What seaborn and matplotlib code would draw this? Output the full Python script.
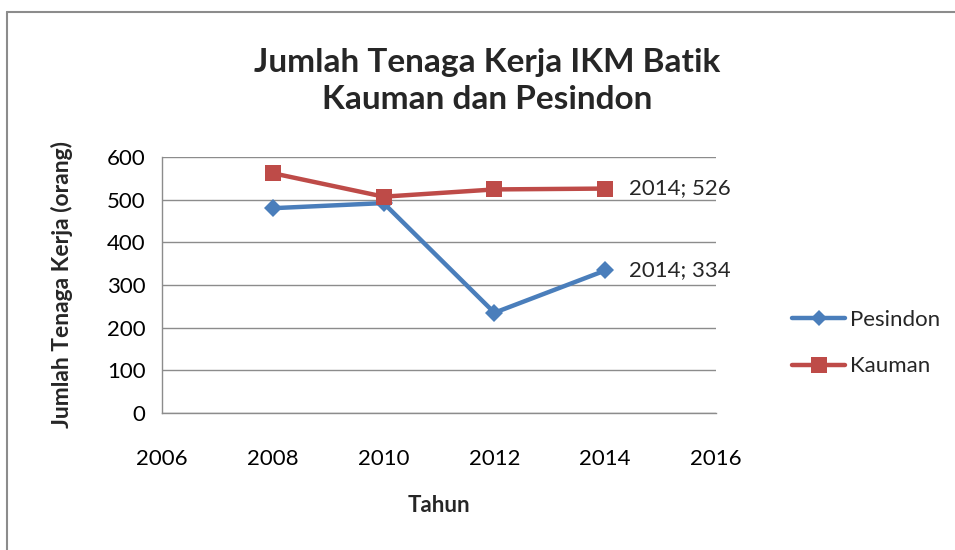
import matplotlib
matplotlib.use("Agg")
from matplotlib import pyplot as plt
from matplotlib.lines import Line2D
import pandas as pd
import seaborn as sns

years = [2008, 2010, 2012, 2014]
pesindon = [480, 492, 235, 334]
kauman = [562, 507, 524, 526]
series_names = ["Pesindon", "Kauman"]
y_ticks = [0, 100, 200, 300, 400, 500, 600]
x_ticks = [2006, 2008, 2010, 2012, 2014, 2016]

df = pd.DataFrame({
    "Tahun": years * 2,
    "Jumlah": pesindon + kauman,
    "Seri": [series_names[0]] * 4 + [series_names[1]] * 4,
})

sns.set_style("white")
plt.rcParams['font.family'] = ['Lato', 'DejaVu Sans']

fig = plt.figure(figsize=(9.55, 5.5), dpi=100)
ax = fig.add_axes([162 / 955, 1 - 413 / 550, (716 - 162) / 955, (413 - 157) / 550])

colors = {"Pesindon": "#4a7ebb", "Kauman": "#be4b48"}
markers = {"Pesindon": "D", "Kauman": "s"}
sizes = {"Pesindon": 9, "Kauman": 12}
for name in series_names:
    sub = df[df.Seri == name]
    sns.lineplot(data=sub, x="Tahun", y="Jumlah", ax=ax, color=colors[name],
                 marker=markers[name], markersize=sizes[name], linewidth=3.2,
                 markeredgewidth=0, label=name, legend=False)

ax.set_xlim(2006, 2016)
ax.set_ylim(0, 600)
ax.set_xticks(x_ticks)
ax.set_yticks(y_ticks)
ax.grid(axis="y", color="#8c8c8c", linewidth=1)
ax.grid(axis="x", visible=False)
for s in ["top", "right"]:
    ax.spines[s].set_visible(False)
for s in ["left", "bottom"]:
    ax.spines[s].set_color("#8c8c8c")
    ax.spines[s].set_linewidth(1)
ax.tick_params(axis="both", labelsize=16, colors="#000000", length=0)
ax.tick_params(axis="x", pad=26)
ax.tick_params(axis="y", pad=12)

ax.set_xlabel("Tahun", fontsize=16, fontweight="bold", labelpad=19)
ax.set_ylabel("Jumlah Tenaga Kerja (orang)", fontsize=16.5, fontweight="bold", labelpad=24)

ax.annotate(f"{years[-1]}; {kauman[-1]}", (years[-1], kauman[-1]), xytext=(17, 0),
            textcoords="offset points", va="center", fontsize=16)
ax.annotate(f"{years[-1]}; {pesindon[-1]}", (years[-1], pesindon[-1]), xytext=(17, 0),
            textcoords="offset points", va="center", fontsize=16)

fig.text(487 / 955, 1 - 81 / 550, "Jumlah Tenaga Kerja IKM Batik\nKauman dan Pesindon",
         ha="center", va="center", fontsize=24, fontweight="bold", linespacing=1.35)

handles = [Line2D([0], [0], color=colors[n], marker=markers[n], markersize=sizes[n] - 1,
                  linewidth=3.2, markeredgewidth=0) for n in series_names]
fig.legend(handles, series_names, loc="center left", bbox_to_anchor=(772 / 955, 1 - 343 / 550),
           frameon=False, fontsize=16, handlelength=2.4, handletextpad=0.2, labelspacing=1.2)

# chart border (top and left only visible)
fig.add_artist(Line2D([7 / 955, 7 / 955], [0, 1 - 12 / 550], color="#8c8c8c", linewidth=1.5,
                      transform=fig.transFigure))
fig.add_artist(Line2D([7 / 955, 1], [1 - 12 / 550, 1 - 12 / 550], color="#8c8c8c", linewidth=1.5,
                      transform=fig.transFigure))

fig.savefig("out.png", dpi=100)
